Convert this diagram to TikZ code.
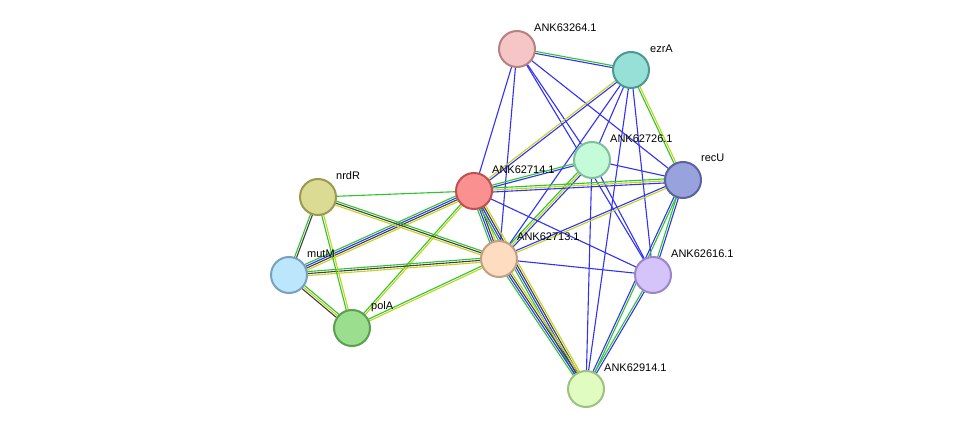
\documentclass[tikz,border=0pt]{standalone}
\usepackage{fontspec}
\setmainfont{Liberation Sans}
\usetikzlibrary{calc,backgrounds}
\definecolor{eg}{HTML}{2EC52E}
\definecolor{eb}{HTML}{3232F5}
\definecolor{ey}{HTML}{C4D41A}
\definecolor{ek}{HTML}{404040}
\tikzset{prot/.style={circle,minimum size=36pt,inner sep=0pt,line width=2pt},
lab/.style={anchor=west,font=\fontsize{11pt}{12pt}\selectfont,inner sep=0pt}}
\newcommand\lnk[4]{%
\foreach \cc [count=\i] in {#4} {%
\pgfmathsetmacro\oo{(\i-(#3+1)/2)*2}%
\draw[\cc,line width=1.1pt] ($(#1.center)!\oo pt!90:(#2.center)$) -- ($(#2.center)!\oo pt!-90:(#1.center)$);
}}
\begin{document}
\begin{tikzpicture}[x=1pt,y=-1pt]
\useasboundingbox (0,0) rectangle (976,435);
\node[prot,fill={rgb,255:red,246;green,198;blue,198},draw={rgb,255:red,184;green,128;blue,128}] (a) at (517,49) {};
\node[prot,fill={rgb,255:red,150;green,224;blue,216},draw={rgb,255:red,74;green,154;blue,146}] (ez) at (631,70) {};
\node[prot,fill={rgb,255:red,196;green,251;blue,217},draw={rgb,255:red,128;green,192;blue,154}] (c) at (592,160) {};
\node[prot,fill={rgb,255:red,152;green,162;blue,220},draw={rgb,255:red,90;green,98;blue,160}] (ru) at (683,180) {};
\node[prot,fill={rgb,255:red,250;green,144;blue,144},draw={rgb,255:red,192;green,80;blue,80}] (d) at (474,191) {};
\node[prot,fill={rgb,255:red,220;green,219;blue,148},draw={rgb,255:red,154;green,154;blue,80}] (nr) at (318,197) {};
\node[prot,fill={rgb,255:red,253;green,220;blue,192},draw={rgb,255:red,192;green,160;blue,128}] (e) at (499,259) {};
\node[prot,fill={rgb,255:red,188;green,230;blue,251},draw={rgb,255:red,122;green,160;blue,192}] (mu) at (289,275) {};
\node[prot,fill={rgb,255:red,212;green,196;blue,250},draw={rgb,255:red,154;green,134;blue,200}] (f) at (653,275) {};
\node[prot,fill={rgb,255:red,154;green,222;blue,142},draw={rgb,255:red,90;green,160;blue,80}] (po) at (352,328) {};
\node[prot,fill={rgb,255:red,224;green,252;blue,192},draw={rgb,255:red,160;green,192;blue,128}] (g) at (586,389) {};
\begin{scope}[on background layer]
\fill[white] (0,0) rectangle (976,435);
\lnk{a}{ez}{2}{eb,eg}
\lnk{a}{c}{1}{eb}
\lnk{a}{f}{1}{eb}
\lnk{a}{ru}{1}{eb}
\lnk{a}{d}{1}{eb}
\lnk{a}{e}{1}{eb}
\lnk{ez}{d}{2}{ey,eb}
\lnk{ez}{e}{1}{eb}
\lnk{ez}{c}{1}{eb}
\lnk{ez}{ru}{2}{eg,ey}
\lnk{ez}{f}{1}{eb}
\lnk{ez}{g}{1}{eb}
\lnk{c}{ru}{1}{eb}
\lnk{c}{d}{2}{eg,eb}
\lnk{c}{e}{3}{eg,ey,eb}
\lnk{c}{f}{1}{eb}
\lnk{c}{g}{1}{eb}
\lnk{ru}{d}{3}{eg,ey,eb}
\lnk{ru}{e}{2}{eb,ey}
\lnk{ru}{f}{2}{eg,eb}
\lnk{ru}{g}{2}{eb,eg}
\lnk{d}{nr}{1}{eg}
\lnk{d}{mu}{4}{eg,eb,ek,ey}
\lnk{d}{po}{2}{eg,ey}
\lnk{d}{e}{4}{eg,eb,ek,ey}
\lnk{d}{g}{4}{eg,eb,ek,ey}
\lnk{d}{f}{1}{eb}
\lnk{e}{nr}{3}{eg,ek,ey}
\lnk{e}{mu}{3}{eg,ek,ey}
\lnk{e}{po}{2}{eg,ey}
\lnk{e}{f}{1}{eb}
\lnk{e}{g}{4}{eg,eb,ek,ey}
\lnk{nr}{mu}{2}{eg,ek}
\lnk{nr}{po}{2}{eg,ey}
\lnk{mu}{po}{3}{ek,ey,eg}
\lnk{f}{g}{2}{eg,eb}
\end{scope}
\node[lab] (la) at (534,28) {ANK63264.1};
\node[lab] (lez) at (650,49) {ezrA};
\node[lab] (lc) at (610,139) {ANK62726.1};
\node[lab] (lru) at (701,158) {recU};
\node[lab] (ld) at (492,170) {ANK62714.1};
\node[lab] (lnr) at (336,176) {nrdR};
\node[lab] (le) at (517,237) {ANK62713.1};
\node[lab] (lmu) at (307,254) {mutM};
\node[lab] (lf) at (671,254) {ANK62616.1};
\node[lab] (lpo) at (371,307) {polA};
\node[lab] (lg) at (604,368) {ANK62914.1};
\end{tikzpicture}
\end{document}
